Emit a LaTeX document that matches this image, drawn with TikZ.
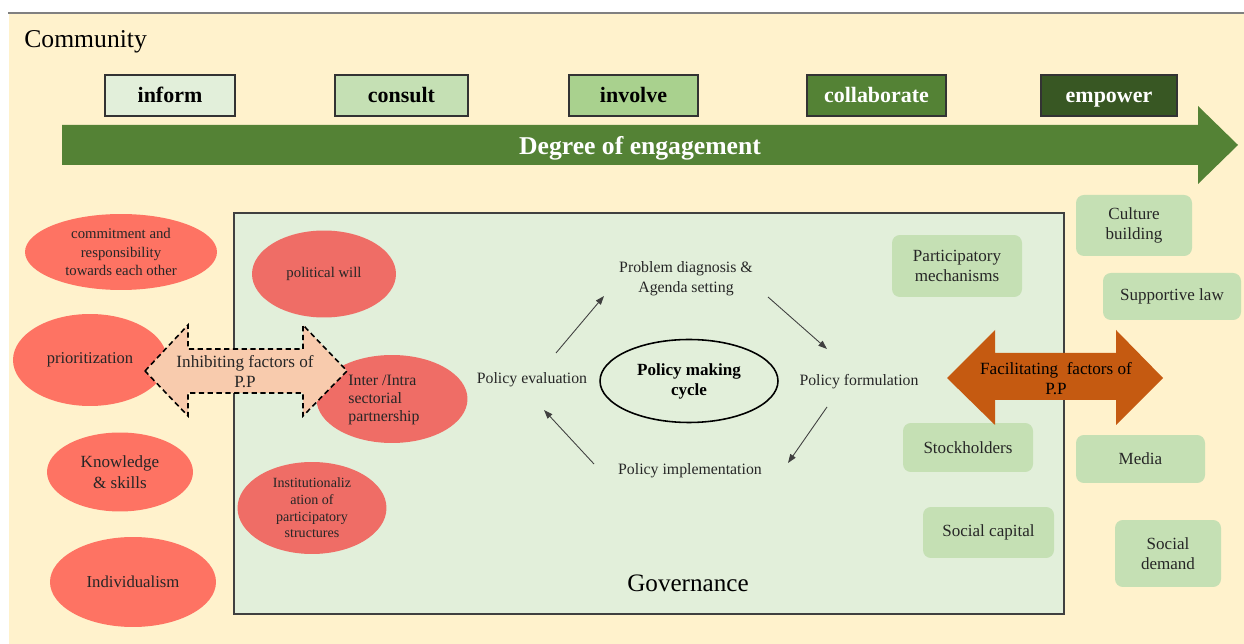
\documentclass[tikz,border=0pt]{standalone}
\usepackage{fontspec}
\setmainfont{Liberation Serif}
\usetikzlibrary{arrows.meta,positioning,shapes.geometric}
\definecolor{cream}{HTML}{FFF2CC}
\definecolor{paleg}{HTML}{E2EFDA}
\definecolor{lightg}{HTML}{C5E0B4}
\definecolor{midg}{HTML}{A9D18E}
\definecolor{darkg}{HTML}{548235}
\definecolor{deepg}{HTML}{385723}
\definecolor{redout}{HTML}{FE7363}
\definecolor{redin}{HTML}{EF6D66}
\definecolor{peach}{HTML}{F8CBAD}
\definecolor{rust}{HTML}{C55A11}
\tikzset{phase/.style={draw=black!80, line width=0.8pt, minimum height=0.82cm, inner sep=0pt, text height=0.82em, text depth=0pt, font=\fontsize{12.5}{14}\selectfont\bfseries}}
\tikzset{hinder/.style={ellipse, fill=redout, inner sep=0pt, align=center, text=black!85}}
\tikzset{helper/.style={rounded corners=4.5pt, fill=lightg, inner sep=0pt, align=center, text=black!85, font=\fontsize{9.7}{11.7}\selectfont}}
\tikzset{cyctext/.style={inner sep=0pt, align=center, text=black!85, font=\fontsize{9}{11.3}\selectfont}}
\tikzset{cyc/.style={draw=black!75, line width=0.5pt, -{Triangle[length=5pt,width=3.6pt]}}}

\begin{document}
\begin{tikzpicture}[x=0.02cm, y=-0.02cm]
		\useasboundingbox (0,0) rectangle (1244,644);
		% community background
		\fill[cream] (9,14) rectangle (1244,644);
		\draw[black!50, line width=0.9pt] (8,13) -- (1244,13);
		\node[anchor=west, inner sep=0pt, font=\fontsize{14.6}{17}\selectfont] (community) at (24,42) {Community};

		% degree of engagement
		\node[phase, fill=paleg, minimum width=2.6cm] (inform) at (170,95.5) {inform};
		\node[phase, fill=lightg, minimum width=2.66cm] (consult) at (401.5,95.5) {consult};
		\node[phase, fill=midg, minimum width=2.58cm] (involve) at (633.5,95.5) {involve};
		\node[phase, fill=darkg, text=white, minimum width=2.78cm] (collab) at (876.5,95.5) {collaborate};
		\node[phase, fill=deepg, text=white, minimum width=2.72cm] (empower) at (1109,95.5) {empower};

		\fill[darkg] (62,125) -- (1198,125) -- (1198,106) -- (1238,145) -- (1198,184) -- (1198,165) -- (62,165) -- cycle;
		\node[text=white, font=\fontsize{14.6}{17}\selectfont\bfseries] (degree) at (640,148) {Degree of engagement};

		% governance
		\node[draw=black!75, line width=1pt, fill=paleg, minimum width=16.6cm, minimum height=8.02cm] (gov) at (649,413.5) {};
		\node[font=\fontsize{14.3}{17}\selectfont] (govlabel) at (688,583) {Governance};

		% inhibiting factors
		\node[hinder, minimum width=3.84cm, minimum height=1.52cm, font=\fontsize{8.4}{10.4}\selectfont] (commit) at (121,252) {commitment and\\responsibility\\towards each other};
		\node[hinder, minimum width=3.08cm, minimum height=1.84cm, font=\fontsize{9.4}{11}\selectfont] (prior) at (90,360) {prioritization};
		\node[hinder, minimum width=2.92cm, minimum height=1.58cm, font=\fontsize{9.7}{11.9}\selectfont] (know) at (120,472) {Knowledge\\\& skills};
		\node[hinder, minimum width=3.32cm, minimum height=1.8cm, font=\fontsize{9.5}{11}\selectfont] (indiv) at (133,582) {Individualism};
		\begin{scope}[hinder/.append style={fill=redin}]
			\node[hinder, minimum width=2.88cm, minimum height=1.74cm, font=\fontsize{8.4}{10.4}\selectfont] (will) at (324,274) {political will};
			\node[hinder, minimum width=3.02cm, minimum height=1.76cm] (inter) at (392,399) {};
			\node[hinder, minimum width=2.98cm, minimum height=1.84cm, font=\fontsize{8}{9.5}\selectfont] (instit) at (312,508) {Institutionaliz\\ation of\\participatory\\structures};
		\end{scope}

		% facilitating factors
		\node[helper, minimum width=2.6cm, minimum height=1.24cm] (mech) at (957,266) {Participatory\\mechanisms};
		\node[helper, minimum width=2.6cm, minimum height=0.98cm] (stock) at (968,447.5) {Stockholders};
		\node[helper, minimum width=2.62cm, minimum height=1.02cm] (capital) at (988.5,532.5) {Social capital};
		\node[helper, minimum width=2.32cm, minimum height=1.22cm] (culture) at (1134,225.5) {Culture\\building};
		\node[helper, minimum width=2.76cm, minimum height=0.94cm] (law) at (1172,296.5) {Supportive law};
		\node[helper, minimum width=2.58cm, minimum height=0.96cm] (media) at (1140.5,459) {Media};
		\node[helper, minimum width=2.12cm, minimum height=1.34cm] (demand) at (1168,553.5) {Social\\demand};

		% double arrows
		\draw[fill=peach, dashed, dash pattern=on 3pt off 2pt, line width=0.9pt] (145,371) -- (188,325) -- (188,349) -- (303,349) -- (303,325) -- (347,371) -- (303,416) -- (303,393) -- (188,393) -- (188,416) -- cycle;
		\node[cyctext, font=\fontsize{9.75}{11.3}\selectfont] (inhib) at (245,372) {Inhibiting factors of\\P.P};
		\node[anchor=west, inner sep=0pt, align=left, text=black!85, font=\fontsize{9}{10.4}\selectfont] (intertext) at (348,400) {Inter /Intra\\sectorial\\partnership};

		\fill[rust] (947,378) -- (995,330) -- (995,353) -- (1116,353) -- (1116,330) -- (1163,378) -- (1116,425) -- (1116,400) -- (995,400) -- (995,425) -- cycle;
		\node[cyctext, text=black, font=\fontsize{9.75}{11.3}\selectfont] (facil) at (1056,379) {Facilitating\ \ factors of\\P.P};

		% policy making cycle
		\node[ellipse, draw=black, line width=0.9pt, minimum width=3.56cm, minimum height=1.66cm, inner sep=0pt, align=center, font=\fontsize{9.7}{11.4}\selectfont\bfseries] (cycle) at (689,381) {Policy making\\cycle};
		\node[cyctext] (prob) at (686,279) {Problem diagnosis \&\\Agenda setting};
		\node[cyctext] (form) at (859,382) {Policy formulation};
		\node[cyctext] (impl) at (690,471) {Policy implementation};
		\node[cyctext] (eval) at (532,380) {Policy evaluation};

		\draw[cyc] ([shift={(24,-27)}]eval.center) -- ([shift={(-82,17)}]prob.center);
		\draw[cyc] ([shift={(82,18)}]prob.center) -- ([shift={(-32,-33)}]form.center);
		\draw[cyc] ([shift={(-32,25)}]form.center) -- ([shift={(98,-8)}]impl.center);
		\draw[cyc] ([shift={(-96,-7)}]impl.center) -- ([shift={(12,30)}]eval.center);
	\end{tikzpicture}
\end{document}
